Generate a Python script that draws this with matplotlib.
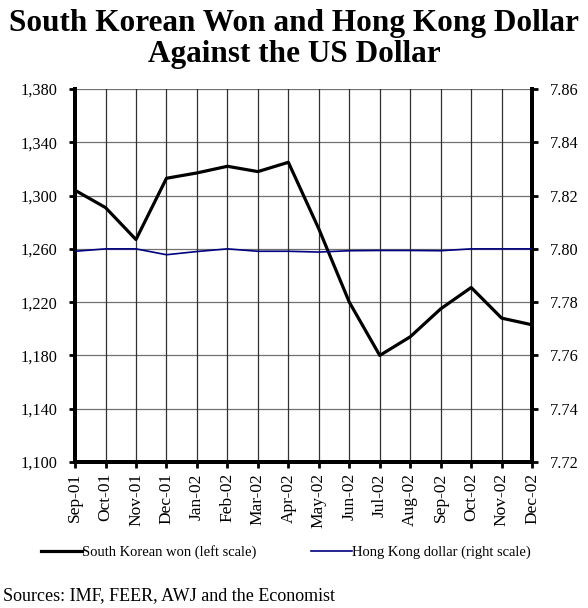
import matplotlib
matplotlib.use("Agg")
import matplotlib.pyplot as plt

plt.rcParams['font.family'] = ['Liberation Serif', 'DejaVu Serif']

months = ['Sep-01', 'Oct-01', 'Nov-01', 'Dec-01', 'Jan-02', 'Feb-02', 'Mar-02', 'Apr-02',
          'May-02', 'Jun-02', 'Jul-02', 'Aug-02', 'Sep-02', 'Oct-02', 'Nov-02', 'Dec-02']
won = [1304, 1291, 1267, 1313, 1317, 1322, 1318, 1325,
       1275, 1220, 1180, 1194, 1215, 1231, 1208, 1203]
hkd = [7.7991, 7.8000, 7.8000, 7.7978, 7.7990, 7.8000, 7.7991, 7.7991,
       7.7988, 7.7993, 7.7994, 7.7994, 7.7993, 7.8000, 7.8000, 7.8000]

left_ticks = [1100, 1140, 1180, 1220, 1260, 1300, 1340, 1380]
right_ticks = [7.72, 7.74, 7.76, 7.78, 7.80, 7.82, 7.84, 7.86]

fig = plt.figure(figsize=(5.88, 6.08), dpi=100)
ax = fig.add_axes([0.1276, 0.2401, 0.7774, 0.6135])
ax2 = ax.twinx()

x = list(range(len(months)))

# gridlines
for t in left_ticks:
    ax.axhline(t, color='#707070', lw=0.9, zorder=1)
for xi in x:
    ax.axvline(xi, color='#303030', lw=0.9, zorder=1)

l1, = ax.plot(x, won, color='black', lw=2.3, zorder=5, label='South Korean won (left scale)')
l2, = ax2.plot(x, hkd, color='#000080', lw=1.2, zorder=4, label='Hong Kong dollar (right scale)')

ax.set_xlim(0, len(months) - 1)
ax.set_ylim(1100, 1380)
ax2.set_ylim(7.72, 7.86)

ax.set_yticks(left_ticks)
ax.set_yticklabels([f"{t:,}" for t in left_ticks], fontsize=11.7)
ax2.set_yticks(right_ticks)
ax2.set_yticklabels([f"{t:.2f}" for t in right_ticks], fontsize=11.7)
ax.set_xticks(x)
ax.set_xticklabels(months, rotation=90, fontsize=12.5)

for a in (ax, ax2):
    a.spines['top'].set_visible(False)
    a.spines['left'].set_linewidth(2.8)
    a.spines['right'].set_linewidth(2.8)
    a.spines['bottom'].set_linewidth(2.8)
ax.tick_params(axis='y', direction='out', length=4, width=2, pad=9)
ax.tick_params(axis='x', direction='out', length=4, width=2, pad=4)
ax2.tick_params(axis='y', direction='out', length=4, width=2, pad=9)

fig.text(0.5, 0.985, 'South Korean Won and Hong Kong Dollar\nAgainst the US Dollar',
         ha='center', va='top', fontsize=22.5, fontweight='bold', linespacing=1.08)

fig.legend(handles=[l1, l2], loc='center left', bbox_to_anchor=(0.057, 0.092), ncol=2,
           frameon=False, fontsize=10.5, handlelength=2.8, handletextpad=0.0,
           columnspacing=3.8, borderpad=0)

fig.text(0.005, 0.02, 'Sources: IMF, FEER, AWJ and the Economist', fontsize=13, ha='left', va='center')

fig.savefig('out.png', dpi=100)
